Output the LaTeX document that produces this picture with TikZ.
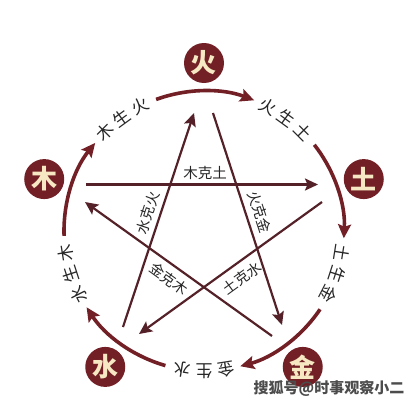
\documentclass[tikz,border=0pt]{standalone}
\usepackage{fontspec}
\newfontfamily\cjk{Noto Sans CJK SC}
\usetikzlibrary{arrows.meta}
\definecolor{wxred}{HTML}{722026}
\definecolor{wxline}{HTML}{552128}
\definecolor{wxcream}{HTML}{F6E8C3}
\tikzset{
  elem/.style={circle, fill=wxred, minimum size=40pt, inner sep=0pt, text=wxcream, font=\cjk\bfseries\fontsize{26}{26}\selectfont},
  sheng/.style={wxred, line width=3.6pt, -{Stealth[length=14pt,width=13pt,inset=2.5pt]}},
  ke/.style={wxline, line width=2.2pt, -{Stealth[length=13pt,width=12pt,inset=2.5pt]}},
  shengtxt/.style={inner sep=0pt, text=black!85, font=\cjk\fontsize{17}{17}\selectfont},
  ketxt/.style={inner sep=0pt, text=black!85, font=\cjk\fontsize{14.5}{14.5}\selectfont}
}
\begin{document}
\begin{tikzpicture}[x=1pt, y=1pt]
          \useasboundingbox (-204,-174) rectangle (216,231);

          \node[elem] (huo) at (90:168) {火};
          \node[elem] (tu) at (18:168) {土};
          \node[elem] (jin) at (-54:168) {金};
          \node[elem] (shui) at (-126:168) {水};
          \node[elem] (mu) at (162:168) {木};

          \coordinate (huoarc) at (110:140);
          \coordinate (tuarc) at (38:140);
          \coordinate (jinarc) at (-34:140);
          \coordinate (shuiarc) at (-106:140);
          \coordinate (muarc) at (182:140);

          \draw[sheng] (huoarc) arc[start angle=110, end angle=69, radius=140];
          \draw[sheng] (tuarc) arc[start angle=38, end angle=-3, radius=140];
          \draw[sheng] (jinarc) arc[start angle=-34, end angle=-75, radius=140];
          \draw[sheng] (shuiarc) arc[start angle=-106, end angle=-147, radius=140];
          \draw[sheng] (muarc) arc[start angle=182, end angle=141, radius=140];

          \node[shengtxt, rotate=45] (ms1) at (135:140) {木};
          \node[shengtxt, rotate=36] (ms2) at (126:140) {生};
          \node[shengtxt, rotate=27] (ms3) at (117:140) {火};
          \node[shengtxt, rotate=-27] (hs1) at (63:140) {火};
          \node[shengtxt, rotate=-36] (hs2) at (54:140) {生};
          \node[shengtxt, rotate=-45] (hs3) at (45:140) {土};
          \node[shengtxt, rotate=-99] (ts1) at (-9:140) {土};
          \node[shengtxt, rotate=-108] (ts2) at (-18:140) {生};
          \node[shengtxt, rotate=-117] (ts3) at (-27:140) {金};
          \node[shengtxt, rotate=-171] (js1) at (-81:140) {金};
          \node[shengtxt, rotate=-180] (js2) at (-90:140) {生};
          \node[shengtxt, rotate=-189] (js3) at (-99:140) {水};
          \node[shengtxt, rotate=117] (ss1) at (-153:140) {水};
          \node[shengtxt, rotate=108] (ss2) at (-162:140) {生};
          \node[shengtxt, rotate=99] (ss3) at (-171:140) {木};

          \coordinate (huoin) at (-10,118);
          \coordinate (huoout) at (9,118);
          \coordinate (tuin) at (114,46.5);
          \coordinate (tuout) at (118,29);
          \coordinate (jinin) at (78,-94);
          \coordinate (jinout) at (68,-105);
          \coordinate (shuiin) at (-65,-103);
          \coordinate (shuiout) at (-81,-96);
          \coordinate (muin) at (-119,29);
          \coordinate (muout) at (-118,46.5);

          \draw[ke] (shuiout) -- (huoin);
          \draw[ke] (huoout) -- (jinin);
          \draw[ke] (muout) -- (tuin);
          \draw[ke] (tuout) -- (shuiin);
          \draw[ke] (jinout) -- (muin);

          \node[ketxt] (mkt) at (1,58) {木克土};
          \node[ketxt, rotate=72] (skh) at (-56,18) {水克火};
          \node[ketxt, rotate=-72] (hkj) at (56,19) {火克金};
          \node[ketxt, rotate=-36] (jkm) at (-35,-48) {金克木};
          \node[ketxt, rotate=36] (tks) at (38,-47) {土克水};

          \node[text=black!70, font=\cjk\bfseries\fontsize{15}{15}\selectfont] (mark) at (125,-157) {搜狐号@时事观察小二};
        \end{tikzpicture}
\end{document}
